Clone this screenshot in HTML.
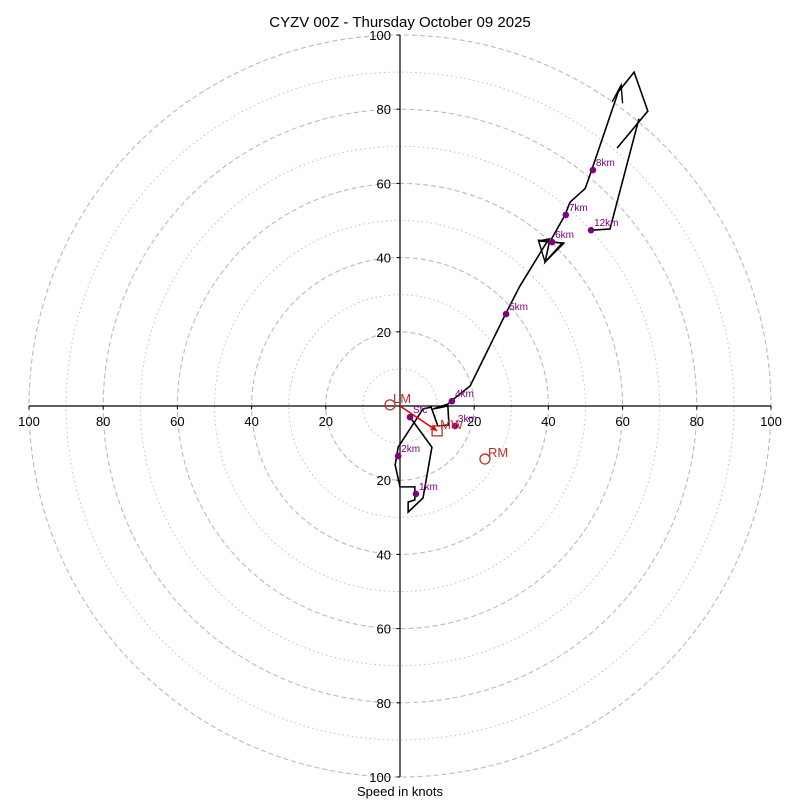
<!DOCTYPE html>
<html><head><meta charset="utf-8"><style>
body{margin:0;background:#fff}
svg text{font-family:"Liberation Sans","DejaVu Sans",sans-serif}
</style></head><body>
<svg id="c" width="800" height="800" viewBox="0 0 800 800" xmlns="http://www.w3.org/2000/svg">
<text x="400" y="27" text-anchor="middle" font-size="15">CYZV 00Z - Thursday October 09 2025</text>
<text x="400" y="796" text-anchor="middle" font-size="13">Speed in knots</text>
<g id="rings"></g><g id="axes"></g><g id="trace"></g><g id="pts"></g>
</svg>
<script>
const cx=400, cy=406, k=3.71;
const ringVals=[10,20,30,40,50,60,70,80,90,100];
const tickVals=[20,40,60,80,100];
// hodograph trace in knots (u east, v north)
const traceU=[2.7,8.6,6.2,2.2,2.2,4.0,4.0,0,-1.3,-0.5,6.2,8.4,10.2,13.2,12.9,8.9,12.9,13.7,18.9,28.3,32.3,39.1,40.2,37.5,43.7,39.1,40.2,44.5,45.8,49.9,51.5,58.8,63.1,66.8,58.5];
const traceV=[-3.0,-11.1,-24.8,-28.6,-25.9,-25.3,-21.8,-21.8,-15.9,-11.1,-0.8,-0.3,-5.4,-5.1,0,-0.8,0.5,1.3,5.4,24.5,32.3,43.4,45.0,44.5,43.9,38.8,43.9,51.5,54.9,58.6,63.1,84.6,90.0,79.5,69.5];
const upperU=[51.5,56.6,64.4];
const upperV=[47.4,47.7,77.4];
const ptLabels=["Sfc","1km","2km","3km","4km","5km","6km","7km","8km","12km"];
const ptU=[2.7,4.3,-0.5,14.8,14.0,28.6,41.0,44.7,52.0,51.5];
const ptV=[-3.0,-23.7,-13.5,-5.4,1.3,24.8,44.2,51.5,63.6,47.4];
const lmU=[-2.7], lmV=[0.3], rmU=[22.9], rmV=[-14.3], mwU=[10.0], mwV=[-6.7];
const X=u=>cx+u*k, Y=v=>cy-v*k;
const NS="http://www.w3.org/2000/svg";
function mk(t,a,p){const e=document.createElementNS(NS,t);for(const q in a)e.setAttribute(q,a[q]);p.appendChild(e);return e;}
const rings=document.getElementById('rings');
ringVals.forEach(r=>{const e=mk('circle',{cx:cx,cy:cy,r:r*k,fill:'none',stroke:'#bbb','stroke-width':r%20?0.9:1.1,'stroke-dasharray':r%20?'1.5,3':'5,3'},rings);

});
const ax=document.getElementById('axes');
let l=mk('line',{x1:X(-100),y1:cy,x2:X(100),y2:cy,stroke:'#000','stroke-width':1.2},ax);


l=mk('line',{x1:cx,y1:Y(100),x2:cx,y2:Y(-100),stroke:'#000','stroke-width':1.2},ax);


tickVals.forEach(t=>{[-t,t].forEach(s=>{
 mk('line',{x1:X(s),y1:cy,x2:X(s),y2:cy+3.5,stroke:'#000'},ax);
 let tx=mk('text',{x:X(s),y:cy+20,'text-anchor':'middle','font-size':13},ax);tx.textContent=t;
 
 
 mk('line',{x1:cx-3.5,y1:Y(s),x2:cx,y2:Y(s),stroke:'#000'},ax);
 let ty=mk('text',{x:cx-9,y:Y(s)+5,'text-anchor':'end','font-size':13},ax);ty.textContent=t;
 
 
});});
const tr=document.getElementById('trace');
let p=mk('polyline',{points:traceU.map((u,i)=>X(u)+','+Y(traceV[i])).join(' '),fill:'none',stroke:'#000','stroke-width':1.6,'stroke-linejoin':'miter'},tr);


p=mk('polyline',{points:upperU.map((u,i)=>X(u)+','+Y(upperV[i])).join(' '),fill:'none',stroke:'#000','stroke-width':1.6},tr);


// arrowheads
mk('polygon',{points:`${X(39.1)},${Y(38.8)} ${X(37.3)},${Y(44.7)} ${X(44.2)},${Y(43.9)}`,fill:'none',stroke:'#000','stroke-width':1.4},tr);
mk('polyline',{points:`${X(57.2)},${Y(82.0)} ${X(59.6)},${Y(86.5)} ${X(60.0)},${Y(81.6)}`,fill:'none',stroke:'#000','stroke-width':1.4},tr);
const pg=document.getElementById('pts');
let a=mk('line',{x1:cx,y1:cy,x2:X(mwU[0]),y2:Y(mwV[0]),stroke:'#e00','stroke-width':1.5},pg);


mk('polygon',{points:`${X(mwU[0])},${Y(mwV[0])} ${X(mwU[0])-7},${Y(mwV[0])-1} ${X(mwU[0])-3},${Y(mwV[0])-6}`,fill:'#e00'},pg);
ptLabels.forEach((n,i)=>{
 const c=mk('circle',{cx:X(ptU[i]),cy:Y(ptV[i]),r:3.3,fill:'#800080'},pg);
 
 
 const t=mk('text',{x:X(ptU[i])+3,y:Y(ptV[i])-4,'font-size':10,fill:'#800080'},pg);t.textContent=n;
 
 
});
let m=mk('circle',{cx:X(lmU[0]),cy:Y(lmV[0]),r:5,fill:'none',stroke:'#c0302a','stroke-width':1.3},pg);


let t=mk('text',{x:X(lmU[0])+3,y:Y(lmV[0])-2,'font-size':13,fill:'#c0302a'},pg);t.textContent='LM';


m=mk('circle',{cx:X(rmU[0]),cy:Y(rmV[0]),r:5,fill:'none',stroke:'#c0302a','stroke-width':1.3},pg);


t=mk('text',{x:X(rmU[0])+3,y:Y(rmV[0])-2,'font-size':13,fill:'#c0302a'},pg);t.textContent='RM';


m=mk('rect',{x:X(mwU[0])-5,y:Y(mwV[0])-5,width:10,height:10,fill:'none',stroke:'#c0302a','stroke-width':1.3},pg);


t=mk('text',{x:X(mwU[0])+3,y:Y(mwV[0])-2,'font-size':13,fill:'#c0302a'},pg);t.textContent='MW';


</script>
</body></html>
